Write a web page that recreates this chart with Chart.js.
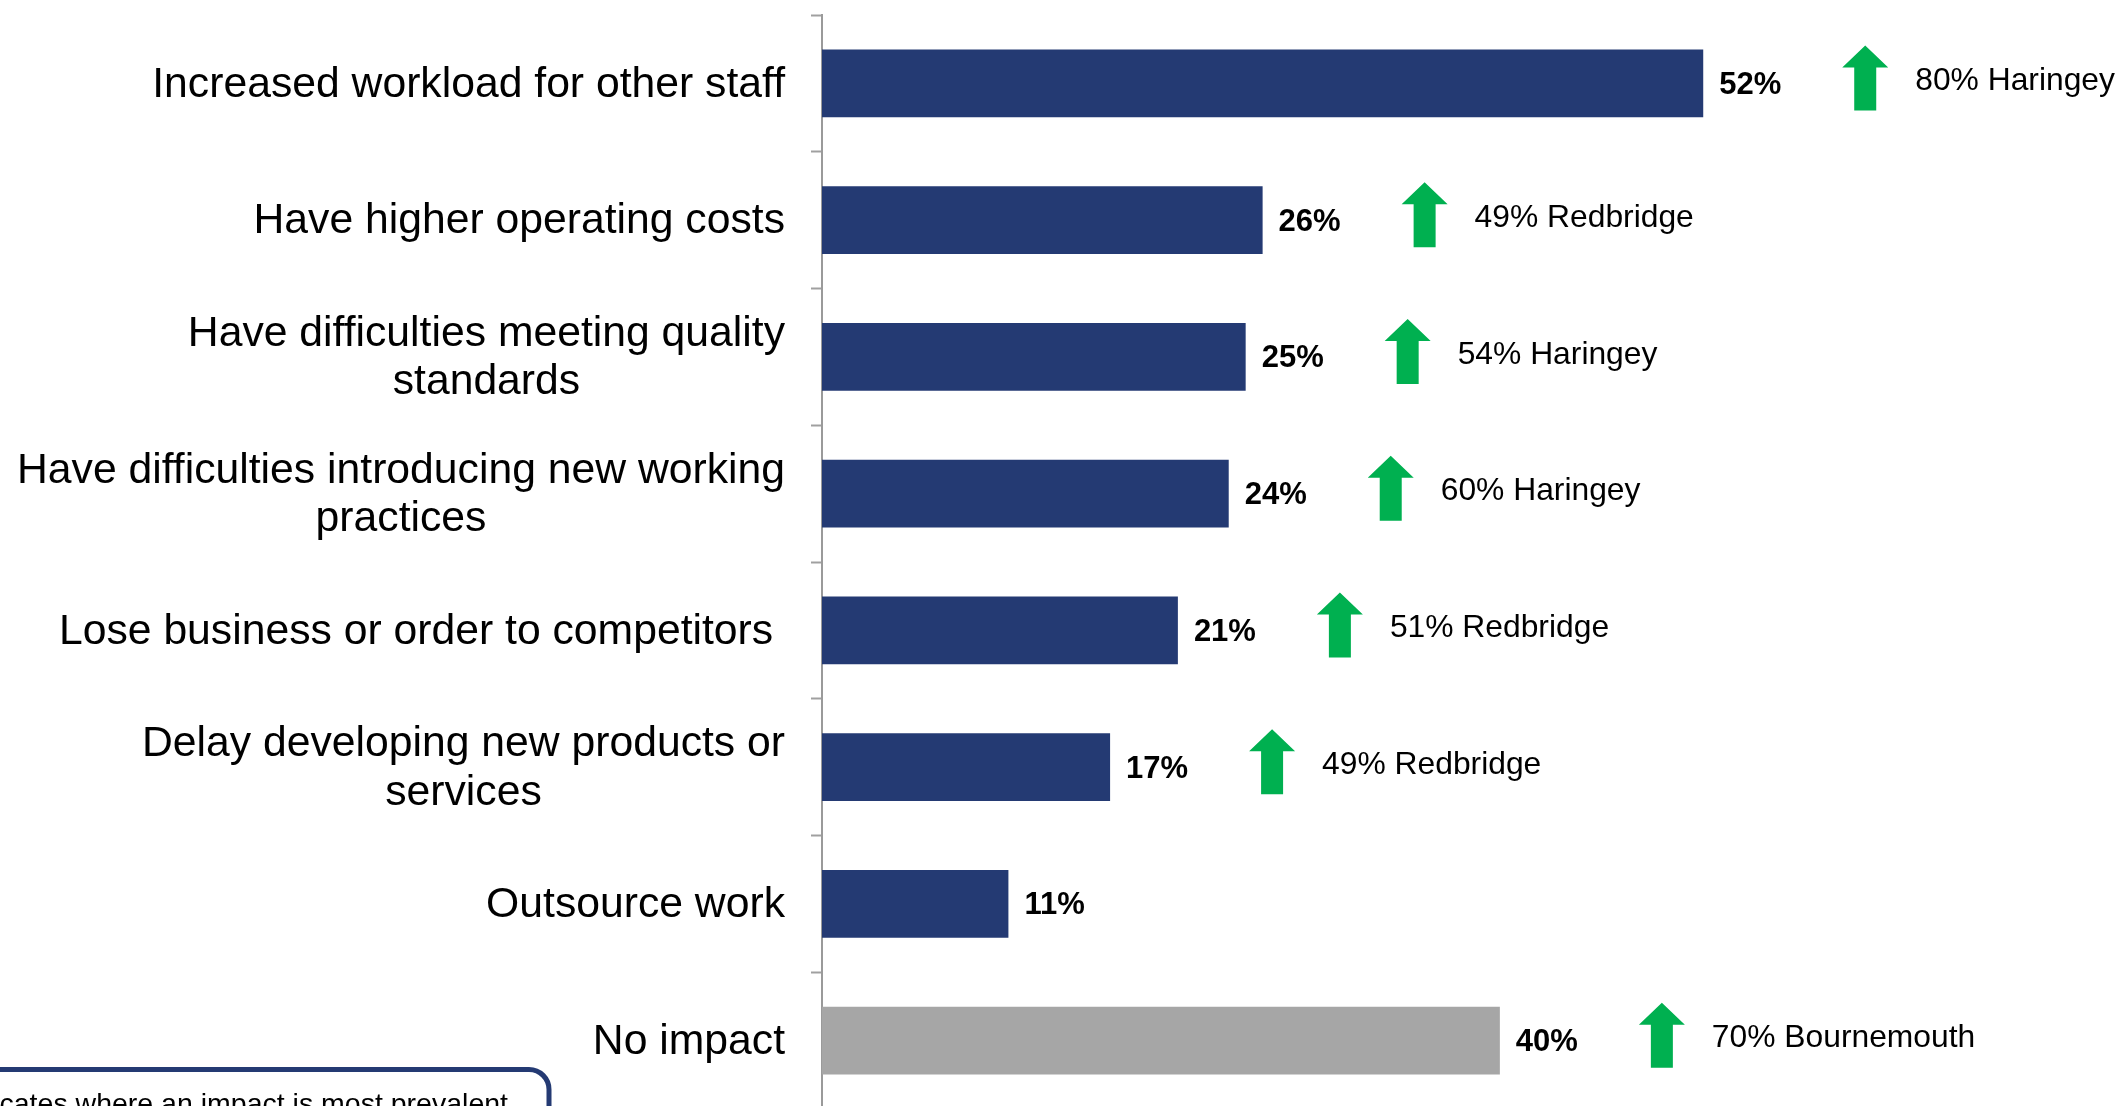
<!DOCTYPE html>
<html>
<head>
<meta charset="utf-8">
<script src="https://cdn.jsdelivr.net/npm/chart.js@4/dist/chart.umd.min.js"></script>
<style>
  html, body { margin: 0; padding: 0; background: #ffffff; overflow: hidden; }
  #wrap { width: 2121px; height: 1130px; position: relative; }
</style>
</head>
<body>
<div id="wrap"><canvas id="chart" width="2121" height="1130"></canvas></div>
<script>
// Impacts reported by businesses (share of respondents, %)
const categories = [
  'Increased workload for other staff',
  'Have higher operating costs',
  ['Have difficulties meeting quality', 'standards'],
  ['Have difficulties introducing new working', 'practices'],
  'Lose business or order to competitors ',
  ['Delay developing new products or', 'services'],
  'Outsource work',
  'No impact'
];
const shares = [52, 26, 25, 24, 21, 17, 11, 40];

// Highest local value for each impact and the area it occurs in
const peakShares = [80, 49, 54, 60, 51, 49, null, 70];
const peakAreas = ['Haringey', 'Redbridge', 'Haringey', 'Haringey', 'Redbridge', 'Redbridge', null, 'Bournemouth'];

const noteText = 'Indicates where an impact is most prevalent';

const NAVY = '#243a73';
const GREY = '#a6a6a6';
const GREEN = '#00b050';
const FONT = '"Liberation Sans", Arial, Helvetica, sans-serif';

const decorations = {
  id: 'decorations',
  afterDatasetsDraw(chart) {
    const ctx = chart.ctx;
    const xs = chart.scales.x;
    const ys = chart.scales.y;
    const axisX = chart.chartArea.left;
    ctx.save();

    // category labels: block right-aligned, lines centred within the block
    ctx.fillStyle = '#000000';
    ctx.font = '42.7px ' + FONT;
    ctx.textBaseline = 'middle';
    ctx.textAlign = 'center';
    const lineH = 48.7;
    categories.forEach((lab, i) => {
      const lines = Array.isArray(lab) ? lab : [lab];
      const widths = lines.map(l => ctx.measureText(l).width);
      const maxW = Math.max(...widths);
      const cx = axisX - 37 - maxW / 2;
      const cy = ys.getPixelForValue(i) + 1.5;
      lines.forEach((l, j) => {
        ctx.fillText(l, cx, cy + (j - (lines.length - 1) / 2) * lineH);
      });
    });

    shares.forEach((v, i) => {
      const end = xs.getPixelForValue(v);
      const cy = ys.getPixelForValue(i);

      // value label
      ctx.fillStyle = '#000000';
      ctx.font = 'bold 31px ' + FONT;
      ctx.textAlign = 'left';
      ctx.textBaseline = 'middle';
      ctx.fillText(v + '%', end + 16, cy + 2);

      if (peakShares[i] == null) return;

      // green up arrow
      const ax = end + 162;
      const top = cy - 38, base = cy - 16, bottom = cy + 27;
      const headHalf = 23, shaftHalf = 11;
      ctx.fillStyle = GREEN;
      ctx.beginPath();
      ctx.moveTo(ax, top);
      ctx.lineTo(ax + headHalf, base);
      ctx.lineTo(ax + shaftHalf, base);
      ctx.lineTo(ax + shaftHalf, bottom);
      ctx.lineTo(ax - shaftHalf, bottom);
      ctx.lineTo(ax - shaftHalf, base);
      ctx.lineTo(ax - headHalf, base);
      ctx.closePath();
      ctx.fill();

      // peak annotation
      ctx.fillStyle = '#000000';
      ctx.font = '31.8px ' + FONT;
      ctx.fillText(peakShares[i] + '% ' + peakAreas[i], end + 212, cy - 2);
    });

    // key box in the lower left corner
    ctx.strokeStyle = NAVY;
    ctx.lineWidth = 5;
    ctx.beginPath();
    ctx.roundRect(-40, 1069.5, 589, 140, 20);
    ctx.stroke();
    ctx.fillStyle = '#000000';
    ctx.font = '28.5px ' + FONT;
    ctx.textAlign = 'right';
    ctx.textBaseline = 'alphabetic';
    ctx.fillText(noteText, 508, 1113);

    ctx.restore();
  }
};

new Chart(document.getElementById('chart'), {
  type: 'bar',
  data: {
    labels: categories,
    datasets: [{
      data: shares,
      backgroundColor: categories.map(c => c === 'No impact' ? GREY : NAVY),
      borderWidth: 0,
      categoryPercentage: 1,
      barPercentage: 0.494
    }]
  },
  options: {
    indexAxis: 'y',
    responsive: false,
    animation: false,
    devicePixelRatio: 1,
    layout: { padding: { top: 15, right: 28, bottom: 21, left: 0 } },
    plugins: { legend: { display: false }, tooltip: { enabled: false } },
    scales: {
      x: { type: 'linear', min: 0, max: 75, display: false },
      y: {
        type: 'category',
        offset: true,
        afterFit(scale) { scale.width = 822; },
        ticks: { display: false },
        grid: {
          offset: true,
          drawOnChartArea: false,
          drawTicks: true,
          tickLength: 11,
          tickWidth: 2,
          tickColor: '#a0a0a0'
        },
        border: { display: true, color: '#9a9a9a', width: 2 }
      }
    }
  },
  plugins: [decorations]
});
</script>
</body>
</html>
